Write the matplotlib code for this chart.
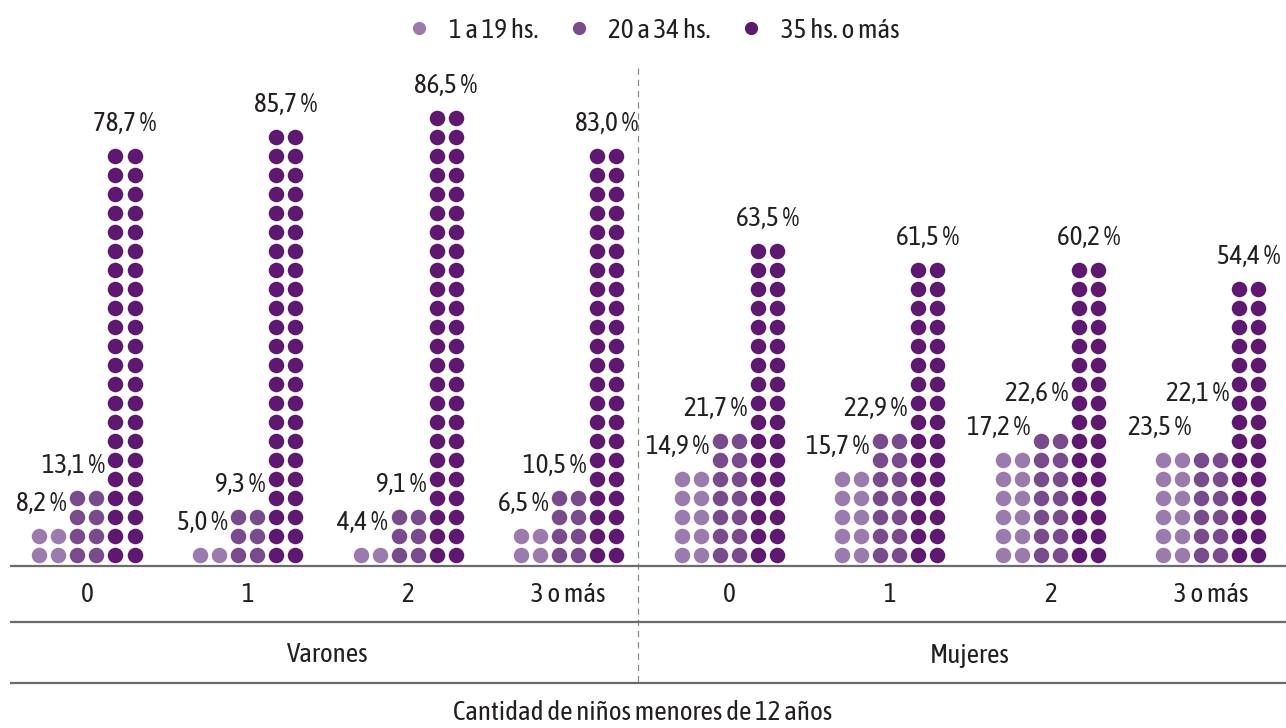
import matplotlib

matplotlib.use("Agg")
import matplotlib.pyplot as plt
from matplotlib.lines import Line2D

plt.rcParams["font.family"] = ["Asap Condensed", "DejaVu Sans"]

# --- data -------------------------------------------------------------
SEXO = ["Varones", "Mujeres"]
CATEGORIAS = ["0", "1", "2", "3 o más"] * 2
SERIES = ["1 a 19 hs.", "20 a 34 hs.", "35 hs. o más"]

v_1a19 = [8.2, 5.0, 4.4, 6.5, 14.9, 15.7, 17.2, 23.5]
v_20a34 = [13.1, 9.3, 9.1, 10.5, 21.7, 22.9, 22.6, 22.1]
v_35mas = [78.7, 85.7, 86.5, 83.0, 63.5, 61.5, 60.2, 54.4]

# filas de puntos (2 puntos por fila) tal como aparecen en el grafico
filas_1a19 = [2, 1, 1, 2, 5, 5, 6, 6]
filas_20a34 = [4, 3, 3, 4, 7, 7, 7, 6]
filas_35mas = [22, 23, 24, 22, 17, 16, 16, 15]

COLORES = ["#9b7bae", "#7a4b8c", "#5e1870"]
TXT = "#231f20"
LINEA = "#6b6b6b"
FS = 19.5

# --- layout (unit = spacing between dots) ------------------------------
GAP = 8.45          # distance between category groups
COL_OFF = [-2.0, 0.0, 2.0]  # centre of each 2-dot column
PX = 19.0           # pixels per unit
# extra lift (in rows) of the 20-34 label where it would collide
LIFT_MID = [0, 0, 0, 0, 0, 0, 0.8, 1.8]


def px_x(p):
    return (p - 87) / PX


def px_y(p):
    return (555 - p) / PX


fig = plt.figure(figsize=(12.86, 7.28), dpi=100)
ax = fig.add_axes([0, 0, 1, 1])
ax.set_xlim(px_x(0), px_x(1286))
ax.set_ylim(px_y(728), px_y(0))
ax.axis("off")

valores = [v_1a19, v_20a34, v_35mas]
filas = [filas_1a19, filas_20a34, filas_35mas]

for i in range(len(CATEGORIAS)):
    cx = i * GAP
    for s in range(3):
        n = filas[s][i]
        xc = cx + COL_OFF[s]
        xs, ys = [], []
        for r in range(n):
            xs += [xc - 0.5, xc + 0.5]
            ys += [r, r]
        ax.scatter(xs, ys, s=125, color=COLORES[s], linewidths=0, zorder=3)
        lab = f"{valores[s][i]:.1f} %".replace(".", ",")
        if s == 2:
            ax.text(xc, n - 1 + 1.3, lab, ha="center", va="baseline",
                    fontsize=FS, color=TXT)
        else:
            lift = LIFT_MID[i] if s == 1 else 0
            ax.text(xc + 0.95, n - 1 + 1.3 + lift, lab, ha="right", va="baseline",
                    fontsize=FS, color=TXT)
    ax.text(cx, px_y(595), CATEGORIAS[i], ha="center", va="center",
            fontsize=FS, color=TXT)

# group labels
for g, nombre in enumerate(SEXO):
    gx = (4 * g + 1.5) * GAP
    ax.text(gx, px_y(655), nombre, ha="center", va="center", fontsize=FS, color=TXT)

# horizontal rules
for p in (566, 622, 683):
    ax.plot([px_x(10), px_x(1286)], [px_y(p)] * 2, color=LINEA, lw=1.6,
            solid_capstyle="butt", zorder=2)

# dashed divider between Varones and Mujeres
ax.plot([3.43 * GAP] * 2, [px_y(68), px_y(683)], color="#8a8a8a", lw=0.9,
        dashes=(5, 4), zorder=1)

ax.text(px_x(643), px_y(713), "Cantidad de niños menores de 12 años",
        ha="center", va="center", fontsize=FS, color=TXT)

handles = [Line2D([], [], marker="o", ls="", markersize=9.5, color=c,
                  markeredgewidth=0) for c in COLORES]
ax.legend(handles, SERIES, loc="center", bbox_to_anchor=(0.5074, 1 - 30 / 728),
          ncol=3, frameon=False, fontsize=FS, handletextpad=0.6,
          columnspacing=1.0, labelcolor=TXT, handlelength=1.0)

fig.savefig("out.png", dpi=100)
